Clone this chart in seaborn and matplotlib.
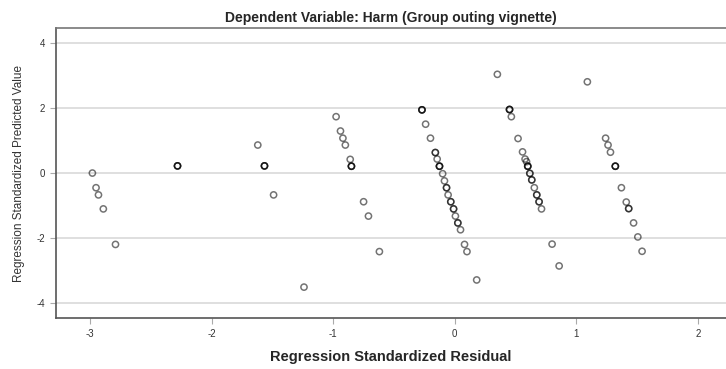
import numpy as np
import pandas as pd
import seaborn as sns
import matplotlib.pyplot as plt

# standardized residual (x) vs standardized predicted value (y); n = overlapping cases
residual = [-2.98, -2.95, -2.93, -2.89, -2.79,
            -2.28, -1.62, -1.565, -1.49, -1.24,
            -0.976, -0.94, -0.92, -0.90, -0.86, -0.85, -0.75, -0.71, -0.62,
            -0.27, -0.24, -0.20, -0.16, -0.145, -0.126, -0.10, -0.085, -0.068,
            -0.055, -0.033, -0.01, 0.005, 0.025, 0.047, 0.08, 0.10, 0.18,
            0.35, 0.45, 0.465, 0.52, 0.557, 0.578, 0.59, 0.60, 0.617, 0.633,
            0.654, 0.674, 0.693, 0.713, 0.80, 0.858,
            1.09, 1.24, 1.26, 1.28, 1.32, 1.37, 1.41, 1.43, 1.47, 1.505, 1.54]
predicted = [0.0, -0.45, -0.67, -1.10, -2.19,
             0.22, 0.86, 0.22, -0.67, -3.50,
             1.73, 1.29, 1.07, 0.86, 0.42, 0.21, -0.88, -1.32, -2.41,
             1.94, 1.50, 1.07, 0.63, 0.43, 0.21, -0.02, -0.24, -0.45,
             -0.67, -0.88, -1.10, -1.32, -1.53, -1.74, -2.19, -2.41, -3.28,
             3.03, 1.95, 1.73, 1.06, 0.65, 0.43, 0.35, 0.21, -0.01, -0.21,
             -0.45, -0.67, -0.88, -1.10, -2.18, -2.85,
             2.80, 1.07, 0.86, 0.64, 0.21, -0.45, -0.89, -1.09, -1.53, -1.96, -2.40]
n_cases = [1, 1, 1, 1, 1,
           3, 1, 3, 1, 1,
           1, 1, 1, 1, 1, 3, 1, 1, 1,
           3, 1, 1, 2, 1, 3, 1, 1, 2,
           1, 2, 2, 1, 2, 1, 1, 1, 1,
           1, 3, 1, 1, 1, 1, 1, 3, 2, 2,
           1, 2, 2, 1, 1, 1,
           1, 1, 1, 1, 3, 1, 1, 2, 1, 1, 1]

x_ticks = [-3, -2, -1, 0, 1, 2]
y_ticks = [-4, -2, 0, 2, 4]

df = pd.DataFrame({"Residual": np.repeat(residual, n_cases),
                   "Predicted": np.repeat(predicted, n_cases)})

sns.set_style("white")
plt.rcParams["font.family"] = ["Liberation Sans", "DejaVu Sans"]
plt.rcParams["axes.unicode_minus"] = False

fig = plt.figure(figsize=(7.26, 3.69), dpi=100)
ax = fig.add_axes([0.077, 0.138, 0.923, 0.786])

for yv in y_ticks:
    ax.axhline(yv, color="#d9d9d9", lw=1.2, zorder=0)

sns.scatterplot(data=df, x="Residual", y="Predicted", ax=ax, marker="o", s=20,
                facecolors="none", edgecolor=(0, 0, 0, 0.55), linewidth=1.1, zorder=3)

ax.set_xlim(-3.28, 2.23)
ax.set_ylim(-4.45, 4.45)
ax.set_xticks(x_ticks)
ax.set_yticks(y_ticks)
ax.tick_params(axis="both", bottom=True, left=True, labelsize=7, colors="#aaaaaa",
               length=4, width=0.8, pad=4)
ax.tick_params(axis="both", labelcolor="#333333")

ax.spines["right"].set_visible(False)
ax.spines["left"].set_color("#555555")
ax.spines["bottom"].set_color("#555555")
ax.spines["top"].set_color("#777777")
for side in ["left", "bottom", "top"]:
    ax.spines[side].set_linewidth(1.2)

ax.set_title("Dependent Variable: Harm (Group outing vignette)", fontsize=10,
             fontweight="bold", pad=4)
ax.set_xlabel("Regression Standardized Residual", fontsize=10.5, fontweight="bold",
              labelpad=8)
ax.set_ylabel("Regression Standardized Predicted Value", fontsize=8.5, color="#333333",
              labelpad=8)

fig.savefig("out.png", dpi=100)
